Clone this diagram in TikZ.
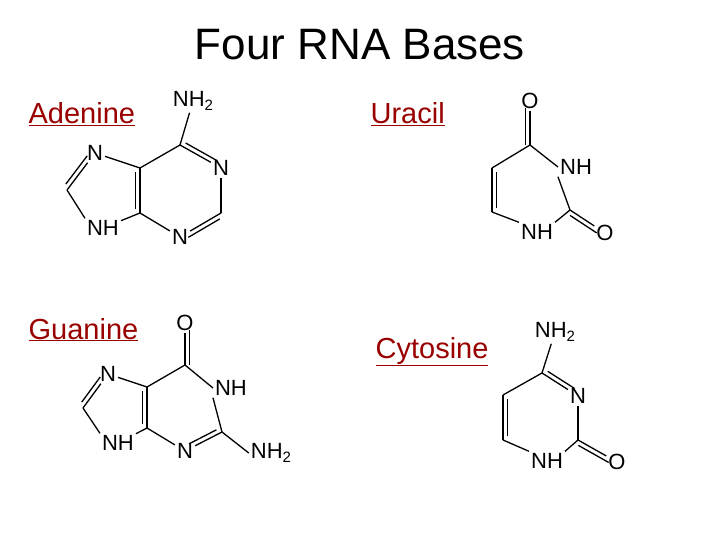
\documentclass[tikz,border=0pt]{standalone}
\usepackage{fontspec}
\setmainfont{Liberation Sans}
\usetikzlibrary{calc}
\newcommand\subtwo{\raisebox{-0.35ex}{\fontsize{15}{15}\selectfont 2}}
\newcommand\dbond[5]{\draw (#1)--(#2); \draw[shorten <=#4,shorten >=#5] ($(#1)!4.5pt!-#3:(#2)$) -- ($(#2)!4.5pt!#3:(#1)$);}
\begin{document}
\begin{tikzpicture}[x=1pt,y=-1pt,line width=1.3pt,
  atom/.style={inner sep=1.5pt,font=\fontsize{22}{22}\selectfont},
  lbl/.style={anchor=base west,text=red!60!black,inner sep=0pt,font=\fontsize{29}{29}\selectfont},
  ttl/.style={font=\fontsize{44}{44}\selectfont}]
\useasboundingbox (0,0) rectangle (720,540);
\node[ttl] (title) at (360,45) {Four RNA Bases};
\node[lbl] (la) at (28,124) {\underline{Adenine}};
\node[lbl] (lu) at (370,124) {\underline{Uracil}};
\node[lbl] (lg) at (28,339) {\underline{Guanine}};
\node[lbl] (lc) at (375,358) {\underline{Cytosine}};
% Adenine
\node[atom] (aN6) at (193,101) {NH\subtwo};
\coordinate (aC6) at (180,145);
\node[atom] (aN1) at (221,168) {N};
\coordinate (aC2) at (221,213);
\node[atom] (aN3) at (180,237) {N};
\coordinate (aC4) at (140,213);
\coordinate (aC5) at (140,168);
\node[atom] (aN7) at (95,153) {N};
\coordinate (aC8) at (67,190);
\node[atom] (aN9) at (103,228) {NH};
\draw (aC6)--(aN6);
\dbond{aC6}{aN1}{-90}{4pt}{7pt}
\draw (aN1)--(aC2);
\dbond{aC2}{aN3}{-90}{4pt}{7pt}
\draw (aN3)--(aC4);
\dbond{aC4}{aC5}{-90}{4pt}{4pt}
\draw (aC5)--(aC6);
\draw (aC5)--(aN7);
\dbond{aN7}{aC8}{90}{7pt}{4pt}
\draw (aC8)--(aN9.north west);
\draw (aN9)--(aC4);
% Guanine
\node[atom] (gO) at (185,323) {O};
\coordinate (gC6) at (185,365);
\node[atom] (gN1) at (231,388) {NH};
\coordinate (gC2) at (222,432);
\node[atom] (gN3) at (185,451) {N};
\coordinate (gC4) at (147,428);
\coordinate (gC5) at (147,387);
\node[atom] (gN7) at (108,374) {N};
\coordinate (gC8) at (83,408);
\node[atom] (gN9) at (118,443) {NH};
\node[atom] (gN2) at (271,453) {NH\subtwo};
\dbond{gC6}{gO}{90}{0pt}{7pt}
\draw (gC6)--(gN1.west);
\draw (gN1.south west)--(gC2);
\dbond{gC2}{gN3}{90}{4pt}{7pt}
\draw (gN3)--(gC4);
\dbond{gC4}{gC5}{-90}{4pt}{4pt}
\draw (gC5)--(gC6);
\draw (gC5)--(gN7);
\dbond{gN7}{gC8}{90}{7pt}{4pt}
\draw (gC8)--(gN9.north west);
\draw (gN9)--(gC4);
\draw (gC2)--(gN2.west);
% Uracil
\node[atom] (uO4) at (530,101) {O};
\coordinate (uC4) at (530,145);
\node[atom] (uN3) at (576,167) {NH};
\coordinate (uC2) at (570,210);
\node[atom] (uO2) at (605,233) {O};
\node[atom] (uN1) at (537,232) {NH};
\coordinate (uC6) at (492,212);
\coordinate (uC5) at (492,168);
\dbond{uC4}{uO4}{-90}{0pt}{7pt}
\draw (uC4)--(uN3.west);
\draw (uN3.south west)--(uC2);
\dbond{uC2}{uO2}{90}{3pt}{7pt}
\draw (uC2)--(uN1.north east);
\draw (uN1.north west)--(uC6);
\dbond{uC6}{uC5}{90}{4pt}{4pt}
\draw (uC5)--(uC4);
% Cytosine
\node[atom] (cN4) at (555,332) {NH\subtwo};
\coordinate (cC4) at (542,373);
\node[atom] (cN3) at (578,396) {N};
\coordinate (cC2) at (578,440);
\node[atom] (cO2) at (617,462) {O};
\node[atom] (cN1) at (547,461) {NH};
\coordinate (cC6) at (503,440);
\coordinate (cC5) at (503,395);
\draw (cC4)--(cN4);
\dbond{cC4}{cN3}{-90}{4pt}{7pt}
\draw (cN3)--(cC2);
\dbond{cC2}{cO2}{90}{3pt}{7pt}
\draw (cC2)--(cN1.north east);
\draw (cN1.north west)--(cC6);
\dbond{cC6}{cC5}{90}{4pt}{4pt}
\draw (cC5)--(cC4);
\end{tikzpicture}
\end{document}
